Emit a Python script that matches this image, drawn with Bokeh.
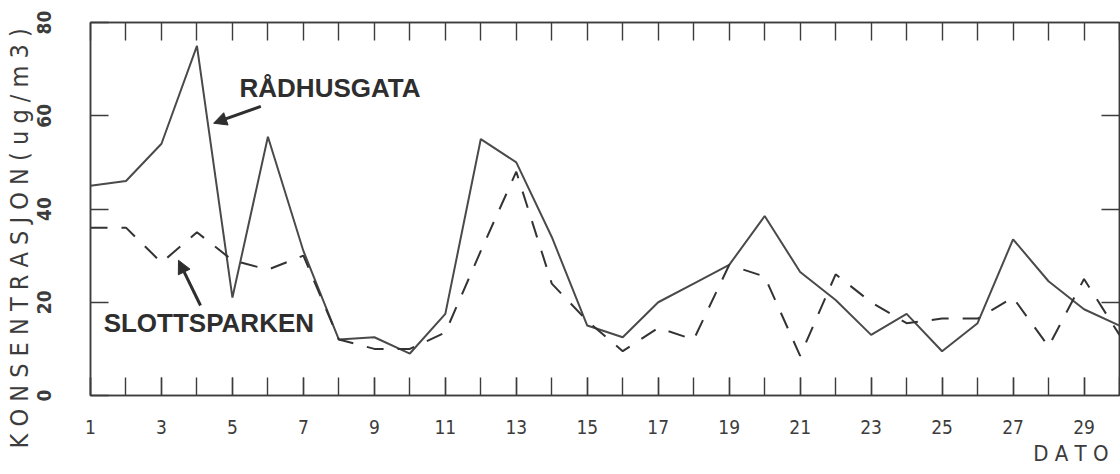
from bokeh.plotting import figure
from bokeh.models import (LinearAxis, FixedTicker, Range1d, Label, Arrow,
                          NormalHead, ColumnDataSource, Title)
from bokeh.embed import file_html
from bokeh.resources import INLINE

# ---- data ----
days = list(range(1, 31))
radhusgata = [45, 46, 54, 75, 21, 55.5, 31, 12, 12.5, 9,
              17.5, 55, 50, 34, 15, 12.5, 20, 24, 28, 38.5,
              26.5, 20.5, 13, 17.5, 9.5, 15.5, 33.5, 24.5, 18.5, 15]
slottsparken = [36, 36, 28.5, 35, 29, 27, 30, 12, 10, 10,
                13.5, 31, 48, 24, 16, 9.5, 14.5, 12, 28, 25.5,
                8.5, 26, 20, 15.5, 16.5, 16.5, 21, 10.5, 25, 13]
x_labelled_ticks = list(range(1, 30, 2))
y_ticks = [0, 20, 40, 60, 80]
y_inner_ticks = [20, 40, 60]

FONT = "Liberation Sans Narrow, DejaVu Sans Condensed, Liberation Sans, sans-serif"
INK = "#3c3c3c"

src = ColumnDataSource(dict(day=days, rad=radhusgata, slott=slottsparken))

p = figure(width=1120, height=472, output_backend="svg", toolbar_location=None,
           x_range=Range1d(1, 30), y_range=Range1d(0, 80),
           min_border_left=90, min_border_right=1, min_border_top=22,
           min_border_bottom=77)
p.xgrid.visible = False
p.ygrid.visible = False
p.outline_line_color = INK
p.outline_line_width = 1.5
p.background_fill_color = "white"
p.border_fill_color = "white"


def frame_axis(ax):
    ax.axis_line_color = INK
    ax.axis_line_width = 1.5
    ax.major_tick_in = 18
    ax.major_tick_out = 0
    ax.minor_tick_in = 18
    ax.minor_tick_out = 0
    ax.major_tick_line_color = INK
    ax.minor_tick_line_color = INK
    ax.major_tick_line_width = 1.4
    ax.minor_tick_line_width = 1.4


# bottom axis: labels at odd days, ticks at every day
xa = p.xaxis[0]
xa.ticker = FixedTicker(ticks=x_labelled_ticks, minor_ticks=days)
frame_axis(xa)
xa.major_label_standoff = 24
xa.major_label_text_font = FONT
xa.major_label_text_font_size = "19px"
xa.major_label_text_color = INK

# top axis: ticks only
top = LinearAxis(ticker=FixedTicker(ticks=[], minor_ticks=days))
frame_axis(top)
p.add_layout(top, "above")

# left axis: rotated labels
ya = p.yaxis[0]
ya.ticker = FixedTicker(ticks=y_ticks)
frame_axis(ya)
ya.minor_tick_in = 0
ya.major_label_orientation = "vertical"
ya.major_label_standoff = 40
ya.major_label_text_font = FONT
ya.major_label_text_font_size = "19px"
ya.major_label_text_font_style = "bold"
ya.major_label_text_color = INK

# right axis: ticks only
right = LinearAxis(ticker=FixedTicker(ticks=[], minor_ticks=y_inner_ticks))
frame_axis(right)
p.add_layout(right, "right")

# ---- series ----
p.line("day", "rad", source=src, line_color="#4a4a4a", line_width=2)
p.line("day", "slott", source=src, line_color="#333333", line_width=2,
       line_dash="17 14")

# ---- annotations ----
p.add_layout(Label(x=5.2, y=66.0, text="RÅDHUSGATA", text_font="Liberation Sans",
                   text_font_size="26px", text_font_style="bold",
                   text_color="#2e2e2e", text_baseline="alphabetic"))
p.add_layout(Arrow(end=NormalHead(size=13, fill_color="#2e2e2e",
                                  line_color="#2e2e2e"),
                   x_start=5.8, y_start=62.0, x_end=4.47, y_end=58.4,
                   line_width=3, line_color="#2e2e2e"))

p.add_layout(Label(x=1.37, y=15.6, text="SLOTTSPARKEN", text_font="Liberation Sans",
                   text_font_size="26px", text_font_style="bold",
                   text_color="#2e2e2e", text_baseline="alphabetic"))
p.add_layout(Arrow(end=NormalHead(size=13, fill_color="#2e2e2e",
                                  line_color="#2e2e2e"),
                   x_start=4.1, y_start=19.3, x_end=3.48, y_end=29.0,
                   line_width=3, line_color="#2e2e2e"))

# axis titles (wide letter-spaced plotter lettering), as side titles
ytitle = Title(text="K O N S E N T R A S J O N   ( u g / m 3 )",
               text_font=FONT, text_font_size="25px", text_font_style="normal",
               text_color=INK, align="left", offset=-53, standoff=0)
p.add_layout(ytitle, "left")
xtitle = Title(text="D A T O", text_font=FONT, text_font_size="22px",
               text_font_style="normal", text_color=INK, align="right",
               offset=11, standoff=4)
p.add_layout(xtitle, "below")

open("out.html", "w").write(file_html(p, INLINE))
